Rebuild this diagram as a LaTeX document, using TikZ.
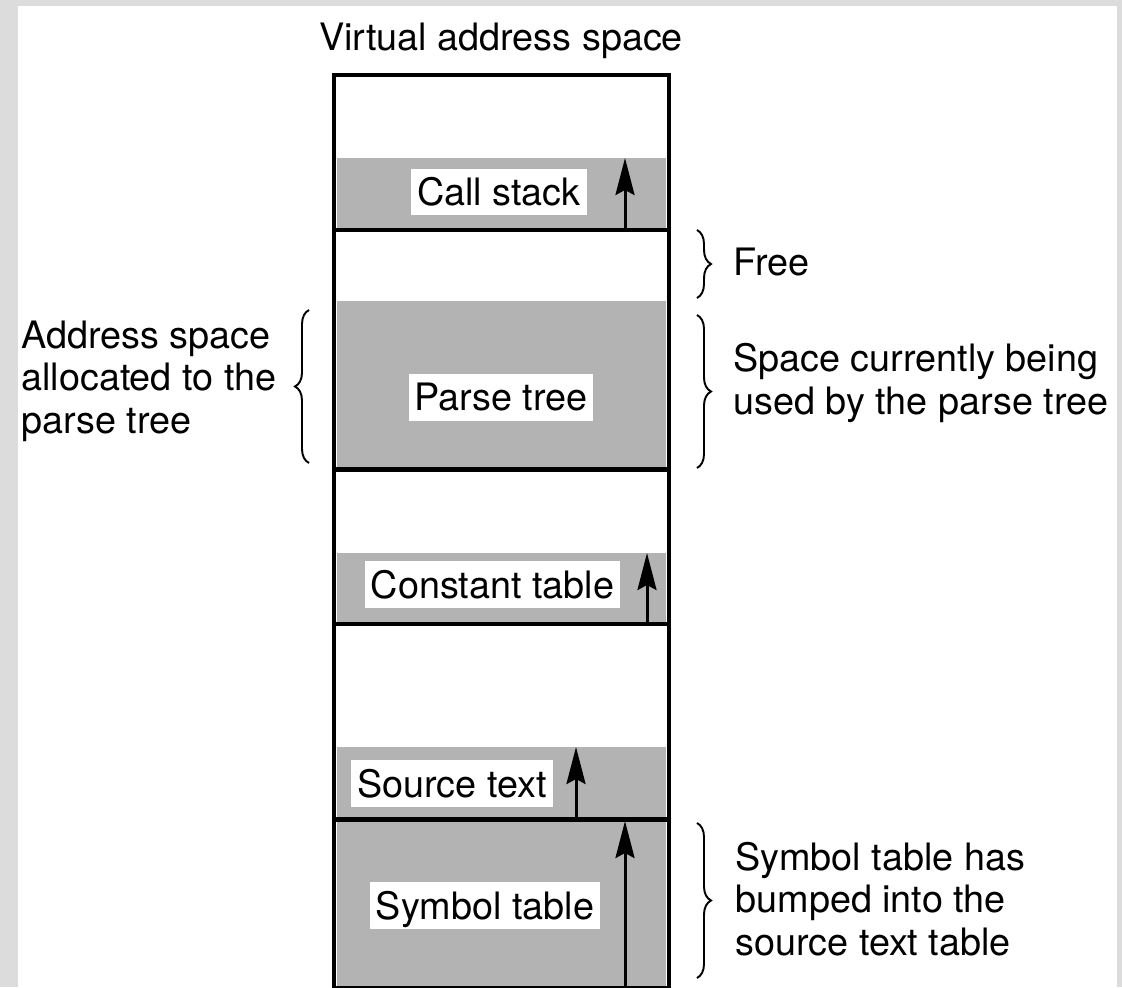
\documentclass[tikz,border=0pt]{standalone}
\usepackage{fontspec}
\setmainfont{TeX Gyre Heros}
\usepackage{tikz}
\usetikzlibrary{arrows.meta,decorations.pathreplacing}
\usepackage{xcolor}
\definecolor{usedgray}{RGB}{179, 179, 179}
\definecolor{framegray}{RGB}{220, 220, 220}

\begin{document}
\begin{tikzpicture}[x=0.02cm, y=-0.02cm, font=\fontsize{21.5}{24}\selectfont,
    wall/.style={line width=2.3pt},
    used/.style={fill=usedgray},
    tag/.style={fill=white, inner xsep=0.12cm, inner ysep=0.04cm, text height=0.70cm, text depth=0.16cm},
    growarrow/.style={line width=1.7pt, -{Stealth[length=0.74cm, width=0.38cm, inset=0.1cm]}},
    curly/.style={line width=1.1pt, decorate, decoration={brace, amplitude=0.28cm}},
    note/.style={align=left, anchor=base west, inner sep=0pt}]
      \fill[framegray] (0,0) rectangle (1122,987);
      \fill[white] (18,6) rectangle (1117,987);
      \useasboundingbox (0,0) rectangle (1122,987);

      \fill[used] (337,158) rectangle (666,228);
      \fill[used] (337,301) rectangle (666,467);
      \fill[used] (337,553) rectangle (666,622);
      \fill[used] (337,747) rectangle (666,817);
      \fill[used] (337,821) rectangle (666,987);

      \draw[wall] (334,75) rectangle (669,988);
      \draw[wall] (334,230) -- (669,230);
      \draw[wall] (334,469.5) -- (669,469.5);
      \draw[wall] (334,624) -- (669,624);
      \draw[wall] (334,819.5) -- (669,819.5);

      \node[anchor=base, inner sep=0pt] (title) at (501,51) {Virtual address space};
      \node[tag] (callstack) at (499,192) {Call stack};
      \node[tag] (parsetree) at (501,397) {Parse tree};
      \node[tag] (consttable) at (492.5,584.5) {Constant table};
      \node[tag] (sourcetext) at (452,783.5) {Source text};
      \node[tag] (symtable) at (485,905.5) {Symbol table};

      \coordinate (cs-foot) at (625,230);
      \coordinate (cs-head) at (625,158);
      \coordinate (ct-foot) at (647,624);
      \coordinate (ct-head) at (647,553);
      \coordinate (st-foot) at (576,819.5);
      \coordinate (st-head) at (576,747);
      \coordinate (sy-foot) at (625,988);
      \coordinate (sy-head) at (625,821);
      \draw[growarrow] (cs-foot) -- (cs-head);
      \draw[growarrow] (ct-foot) -- (ct-head);
      \draw[growarrow] (st-foot) -- (st-head);
      \draw[growarrow] (sy-foot) -- (sy-head);

      % braces and their notes (base = last line)
      \coordinate (free-top) at (697,230);
      \coordinate (free-bot) at (697,298);
      \coordinate (used-top) at (697,315);
      \coordinate (used-bot) at (697,468);
      \coordinate (bump-top) at (697,823);
      \coordinate (bump-bot) at (697,978);
      \coordinate (alloc-top) at (309,310);
      \coordinate (alloc-bot) at (309,463);
      \draw[curly] (free-top) -- (free-bot);
      \draw[curly] (used-top) -- (used-bot);
      \draw[curly] (bump-top) -- (bump-bot);
      \draw[curly] (alloc-bot) -- (alloc-top);

      \node[note] (free) at (733,275) {Free};
      \node[note] (usednote) at (733,414) {Space currently being\\used by the parse tree};
      \node[note] (bumpnote) at (735,955) {Symbol table has\\bumped into the\\source text table};
      \node[note] (allocnote) at (21,433) {Address space\\allocated to the\\parse tree};
    \end{tikzpicture}
\end{document}
